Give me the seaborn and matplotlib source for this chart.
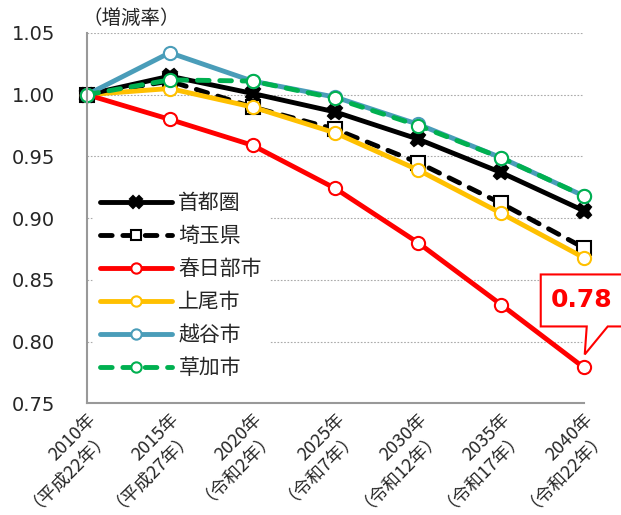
import matplotlib
matplotlib.use("Agg")
import matplotlib.pyplot as plt
import matplotlib.transforms as mtransforms
from matplotlib.patches import Polygon
import seaborn as sns
import pandas as pd

years = ["2010年\n（平成22年）", "2015年\n（平成27年）", "2020年\n（令和2年）", "2025年\n（令和7年）",
         "2030年\n（令和12年）", "2035年\n（令和17年）", "2040年\n（令和22年）"]
shutoken = [1.000, 1.015, 1.001, 0.986, 0.964, 0.937, 0.906]
saitama = [1.000, 1.011, 0.990, 0.972, 0.945, 0.912, 0.876]
kasukabe = [1.000, 0.980, 0.959, 0.924, 0.880, 0.830, 0.779]
ageo = [1.000, 1.005, 0.990, 0.969, 0.939, 0.904, 0.868]
koshigaya = [1.000, 1.034, 1.011, 0.998, 0.976, 0.949, 0.918]
soka = [1.000, 1.012, 1.011, 0.997, 0.975, 0.949, 0.918]
yticks = [0.75, 0.80, 0.85, 0.90, 0.95, 1.00, 1.05]
callout_label = "0.78"

sns.set_theme(style="white")
plt.rcParams['font.family'] = ['Noto Sans CJK JP', 'DejaVu Sans']

fig = plt.figure(figsize=(6.21, 5.15), dpi=100)
ax = fig.add_axes([0.140, 0.217, 0.800, 0.719])

x = list(range(len(years)))
dash = (0, (2.4, 2.2))
series = [
    ("埼玉県", saitama, "black", dash, "s", "white", "black"),
    ("上尾市", ageo, "#FFC000", "-", "o", "white", "#FFC000"),
    ("春日部市", kasukabe, "#FF0000", "-", "o", "white", "#FF0000"),
    ("首都圏", shutoken, "black", "-", "X", "black", "black"),
    ("越谷市", koshigaya, "#4A9DB9", "-", "o", "white", "#4A9DB9"),
    ("草加市", soka, "#00B050", dash, "o", "white", "#00B050"),
]
handles = {}
for name, vals, col, ls, mk, mfc, mec in series:
    df = pd.DataFrame({"x": x, "y": vals})
    sns.lineplot(data=df, x="x", y="y", ax=ax, color=col, linewidth=3.5,
                 linestyle=ls, marker=mk, markersize=9.5 if mk != "X" else 10.5,
                 markerfacecolor=mfc, markeredgecolor=mec, markeredgewidth=1.5,
                 clip_on=False)
    ln = ax.lines[-1]
    ln.set_dash_capstyle("round")
    ln.set_solid_capstyle("round")
    ln.set_solid_joinstyle("round")
    handles[name] = ln

ax.set_xlim(0, 6)
ax.set_ylim(0.75, 1.05)
ax.set_yticks(yticks)
ax.set_yticklabels([f"{v:.2f}" for v in yticks], fontsize=14, family=['DejaVu Sans'])
ax.set_xticks(x)
ax.set_xticklabels(years, rotation=45, ha="right", va="top", rotation_mode="anchor",
                   multialignment="right", fontsize=13, linespacing=0.82)
ax.set_xlabel("")
ax.set_ylabel("")
for yv in yticks[1:]:
    ax.axhline(yv, color="#AAAAAA", linestyle=(0, (1.5, 1.5)), linewidth=0.8, zorder=0)
for s in ["top", "right"]:
    ax.spines[s].set_visible(False)
for s in ["left", "bottom"]:
    ax.spines[s].set_color("#999999")
    ax.spines[s].set_linewidth(1.5)
ax.tick_params(axis="x", direction="out", length=5, color="#999999", width=1.2, pad=0)
ax.tick_params(axis="y", direction="out", length=5, color="#999999", width=1.2, pad=18)

order = ["首都圏", "埼玉県", "春日部市", "上尾市", "越谷市", "草加市"]
leg = ax.legend([handles[n] for n in order], order, loc="upper left",
                bbox_to_anchor=(0.012, 0.59), frameon=True, framealpha=1,
                edgecolor="white", facecolor="white", fontsize=15,
                handlelength=3.45, labelspacing=0.53, borderpad=0.35,
                handletextpad=0.3, markerscale=0.78, borderaxespad=0)
leg.set_zorder(5)

fig.text(0.211, 0.965, "（増減率）", fontsize=14, ha="center", va="center")

# callout box anchored at the last 春日部市 point
anchor = mtransforms.ScaledTranslation(x[-1], kasukabe[-1], ax.transData)
trans = fig.dpi_scale_trans + anchor
verts = [(-0.43, 0.41), (0.03, 0.41), (0.01, 0.13), (0.24, 0.41), (0.50, 0.41),
         (0.50, 0.93), (-0.43, 0.93)]
poly = Polygon(verts, closed=True, transform=trans, facecolor="white",
               edgecolor="#FF0000", linewidth=1.5, clip_on=False, zorder=6)
fig.add_artist(poly)
fig.text(-0.02, 0.67, callout_label, transform=trans, fontsize=18, fontweight="bold",
         color="#FF0000", ha="center", va="center", family=['DejaVu Sans'], zorder=7)

fig.savefig("out.png", dpi=100)
